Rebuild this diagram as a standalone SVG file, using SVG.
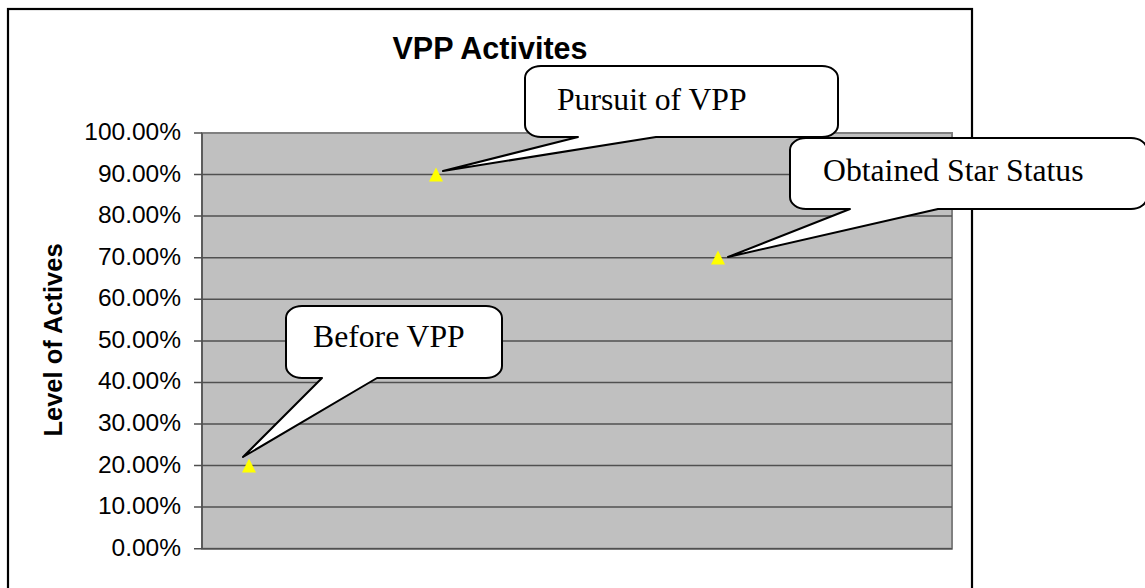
<svg xmlns="http://www.w3.org/2000/svg" width="1145" height="588" viewBox="0 0 1145 588">
<style>
.tick{font-family:"Liberation Sans",Arial,sans-serif;font-size:24.5px;fill:#000;text-anchor:end}
.grid{stroke:#505050;stroke-width:1.5;fill:none}
.callout{fill:#fff;stroke:#000;stroke-width:2;stroke-linejoin:round}
.ctext{font-family:"Liberation Serif","Times New Roman",serif;font-size:31.7px;fill:#000}
.marker{fill:#ffff00}
</style>
<rect width="1145" height="588" fill="#fff"/>
<rect id="frame" x="8" y="9" width="964" height="600" fill="#fff" stroke="#000" stroke-width="2.2"/>
<text id="title" x="490" y="59" font-family="Liberation Sans,Arial,sans-serif" font-size="30.5" font-weight="bold" text-anchor="middle">VPP Activites</text>
<g id="plot">
<rect x="202" y="133" width="750" height="415.7" fill="#c0c0c0" stroke="#808080" stroke-width="2"/>
<g class="grid">
<line x1="194" y1="174.6" x2="952" y2="174.6"/>
<line x1="194" y1="216.1" x2="952" y2="216.1"/>
<line x1="194" y1="257.7" x2="952" y2="257.7"/>
<line x1="194" y1="299.3" x2="952" y2="299.3"/>
<line x1="194" y1="340.9" x2="952" y2="340.9"/>
<line x1="194" y1="382.4" x2="952" y2="382.4"/>
<line x1="194" y1="424" x2="952" y2="424"/>
<line x1="194" y1="465.6" x2="952" y2="465.6"/>
<line x1="194" y1="507.1" x2="952" y2="507.1"/>
<line x1="194" y1="548.7" x2="952" y2="548.7"/>
<line x1="194" y1="133" x2="202" y2="133"/>
<line x1="202" y1="133" x2="202" y2="548.7"/>
</g>
</g>
<g id="yaxis-labels">
<text class="tick" x="181" y="140">100.00%</text>
<text class="tick" x="181" y="181.6">90.00%</text>
<text class="tick" x="181" y="223.1">80.00%</text>
<text class="tick" x="181" y="264.7">70.00%</text>
<text class="tick" x="181" y="306.3">60.00%</text>
<text class="tick" x="181" y="347.9">50.00%</text>
<text class="tick" x="181" y="389.4">40.00%</text>
<text class="tick" x="181" y="431">30.00%</text>
<text class="tick" x="181" y="472.6">20.00%</text>
<text class="tick" x="181" y="514.1">10.00%</text>
<text class="tick" x="181" y="555.7">0.00%</text>
</g>
<text id="ytitle" transform="translate(61.5,340) rotate(-90)" font-family="Liberation Sans,Arial,sans-serif" font-size="25.5" font-weight="bold" text-anchor="middle">Level of Actives</text>
<g id="markers">
<polygon class="marker" points="436,167.5 429,181.5 443,181.5"/>
<polygon class="marker" points="249,458.5 242,472.5 256,472.5"/>
<polygon class="marker" points="718,250.5 711,264.5 725,264.5"/>
</g>
<g id="connectors">
<path id="c-pursuit" class="callout" d="M541,66 H822 A16,12 0 0 1 838,78 V125 A16,12 0 0 1 822,137 H656 L443,171 L578,137 H541 A16,12 0 0 1 525,125 V78 A16,12 0 0 1 541,66 Z"/>
<path id="c-star" class="callout" d="M806,138 H1131 A16,12 0 0 1 1147,150 V197 A16,12 0 0 1 1131,209 H938 L728,257 L850,209 H806 A16,12 0 0 1 790,197 V150 A16,12 0 0 1 806,138 Z"/>
<path id="c-before" class="callout" d="M302,306 H486 A16,12 0 0 1 502,318 V366 A16,12 0 0 1 486,378 H377 L243,457 L322,378 H302 A16,12 0 0 1 286,366 V318 A16,12 0 0 1 302,306 Z"/>
</g>
<g id="n-pursuit"><text class="ctext" x="557" y="110">Pursuit of VPP</text></g>
<g id="n-star"><text class="ctext" x="823" y="181">Obtained Star Status</text></g>
<g id="n-before"><text class="ctext" x="313" y="347">Before VPP</text></g>
</svg>
